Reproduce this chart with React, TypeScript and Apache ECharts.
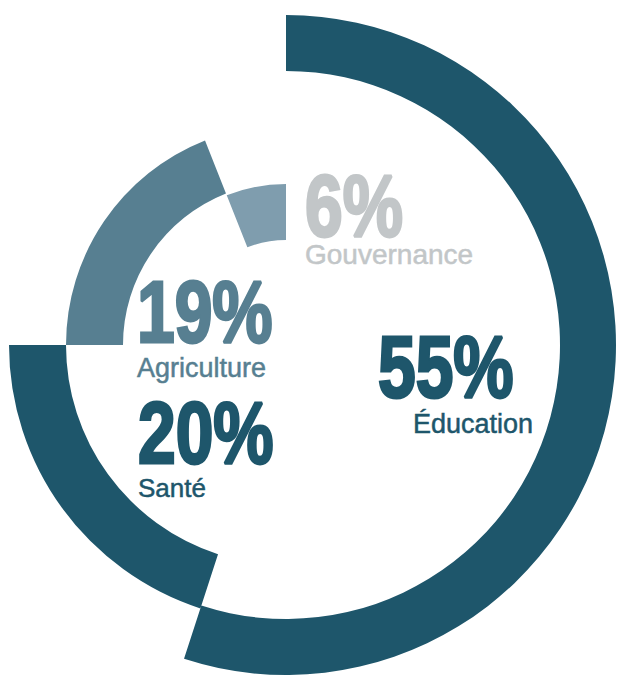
import React, { useEffect, useRef } from "react";
import * as echarts from "echarts";

// ---- Data ----
const categories = ["Éducation", "Santé", "Agriculture", "Gouvernance"];
const shares = [55, 20, 19, 6];

// ---- Styles / layout (not data) ----
const sliceColors = ["#1e566b", "#1e566b", "#577f91", "#7f9dae"];
const textColors = ["#1e566b", "#1e566b", "#577f91", "#c2c6c8"];
const ringRadii: [number, number][] = [
  [274, 330],
  [220, 277],
  [163, 220],
  [105, 161],
];
const CENTER: [number, number] = [286, 345];
// label anchor: [x, capCenterY of number, x, capCenterY of name, nameSize]
const labelPos: [number, number, number, number, number][] = [
  [378, 367, 413, 424, 27],
  [138, 433, 138, 488, 26],
  [137, 312, 137, 368, 27],
  [305, 206, 305, 254, 28],
];

export default function App() {
  const ref = useRef<HTMLDivElement>(null);
  useEffect(() => {
    if (!ref.current) return;
    const chart = echarts.init(ref.current, null, { renderer: "svg" });

    const series = categories.map((_, idx) => ({
      type: "pie",
      silent: true,
      center: CENTER,
      radius: ringRadii[idx],
      startAngle: 90,
      clockwise: true,
      avoidLabelOverlap: false,
      label: { show: false },
      labelLine: { show: false },
      emphasis: { disabled: true },
      itemStyle: { borderWidth: 0 },
      data: categories.map((c, j) => ({
        name: c,
        value: shares[j],
        itemStyle: { color: j === idx ? sliceColors[idx] : "rgba(0,0,0,0)" },
      })),
    }));

    const graphics: any[] = [];
    categories.forEach((c, i) => {
      const [nx, ny, lx, ly, ls] = labelPos[i];
      graphics.push({
        type: "text",
        x: nx,
        y: ny,
        scaleX: 0.77,
        silent: true,
        style: {
          x: 0,
          y: 0,
          text: `${shares[i]}%`,
          font: 'bold 88px "Liberation Sans", Arial, sans-serif',
          fill: textColors[i],
          stroke: textColors[i],
          lineWidth: 3,
          textAlign: "left",
          textVerticalAlign: "middle",
        },
      });
      graphics.push({
        type: "text",
        x: lx,
        y: ly,
        silent: true,
        style: {
          x: 0,
          y: 0,
          text: c,
          font: `${ls}px "Liberation Sans", Arial, sans-serif`,
          fill: textColors[i],
          stroke: textColors[i],
          lineWidth: 0.5,
          textAlign: "left",
          textVerticalAlign: "middle",
        },
      });
    });

    chart.setOption({
      animation: false,
      backgroundColor: "#ffffff",
      series,
      graphic: graphics,
    });
    return () => chart.dispose();
  }, []);

  return (
    <div
      ref={ref}
      style={{ position: "fixed", left: 0, top: 0, width: 617, height: 677 }}
    />
  );
}
